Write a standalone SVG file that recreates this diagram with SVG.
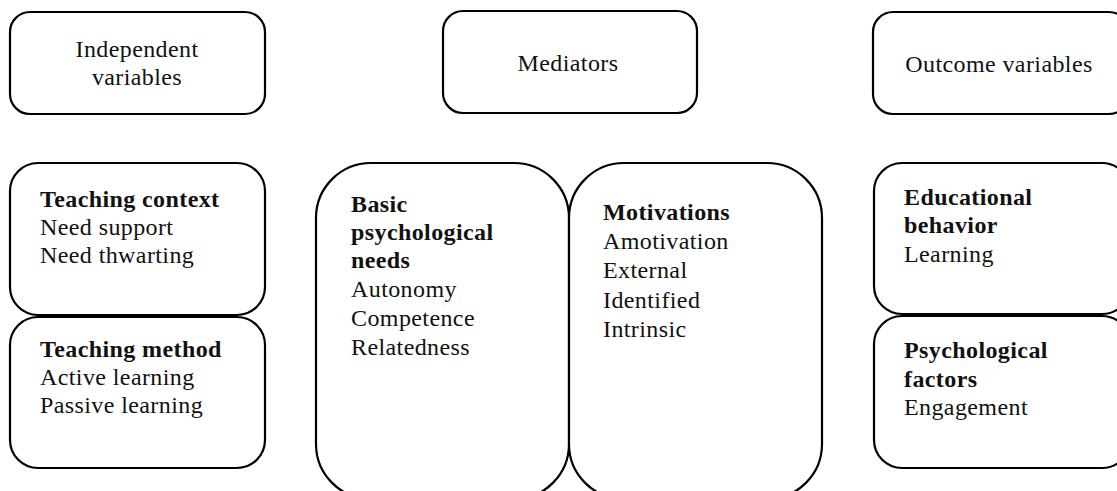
<svg xmlns="http://www.w3.org/2000/svg" width="1117" height="491" viewBox="0 0 1117 491">
<style>
.box{fill:#fff;stroke:#000;stroke-width:2.2}
text{font-family:"Liberation Serif","Times New Roman",serif;font-size:24px;letter-spacing:0.4px;fill:#111}
.b{font-weight:bold}
.c{text-anchor:middle}
</style>
<rect x="0" y="0" width="1117" height="491" fill="#fff"/>
<g id="independent-header">
<rect class="box" x="10" y="12" width="255" height="102" rx="20"/>
<text class="c" x="137" y="57">Independent</text>
<text class="c" x="137" y="85">variables</text>
</g>
<g id="mediators-header">
<rect class="box" x="443" y="11" width="254" height="102" rx="20"/>
<text class="c" x="568" y="71">Mediators</text>
</g>
<g id="outcome-header">
<rect class="box" x="873" y="12" width="256" height="102" rx="20"/>
<text class="c" x="999" y="72">Outcome variables</text>
</g>
<g id="teaching-context">
<rect class="box" x="10" y="163" width="255" height="152" rx="28"/>
<text x="40" y="207" class="b">Teaching context</text>
<text x="40" y="235">Need support</text>
<text x="40" y="263">Need thwarting</text>
</g>
<g id="teaching-method">
<rect class="box" x="10" y="317" width="255" height="151" rx="28"/>
<text x="40" y="357" class="b">Teaching method</text>
<text x="40" y="385">Active learning</text>
<text x="40" y="413">Passive learning</text>
</g>
<g id="basic-needs">
<rect class="box" x="316" y="163" width="253" height="336" rx="55"/>
<text x="351" y="212" class="b">Basic</text>
<text x="351" y="240" class="b">psychological</text>
<text x="351" y="268" class="b">needs</text>
<text x="351" y="297">Autonomy</text>
<text x="351" y="326">Competence</text>
<text x="351" y="355">Relatedness</text>
</g>
<g id="motivations">
<rect class="box" x="569" y="163" width="253" height="336" rx="55"/>
<text x="603" y="220" class="b">Motivations</text>
<text x="603" y="249">Amotivation</text>
<text x="603" y="278">External</text>
<text x="603" y="308">Identified</text>
<text x="603" y="337">Intrinsic</text>
</g>
<g id="educational-behavior">
<rect class="box" x="874" y="163" width="256" height="151" rx="28"/>
<text x="904" y="205" class="b">Educational</text>
<text x="904" y="233" class="b">behavior</text>
<text x="904" y="262">Learning</text>
</g>
<g id="psychological-factors">
<rect class="box" x="874" y="316" width="256" height="152" rx="28"/>
<text x="904" y="358" class="b">Psychological</text>
<text x="904" y="387" class="b">factors</text>
<text x="904" y="415">Engagement</text>
</g>
<g id="connectors"></g>
</svg>
